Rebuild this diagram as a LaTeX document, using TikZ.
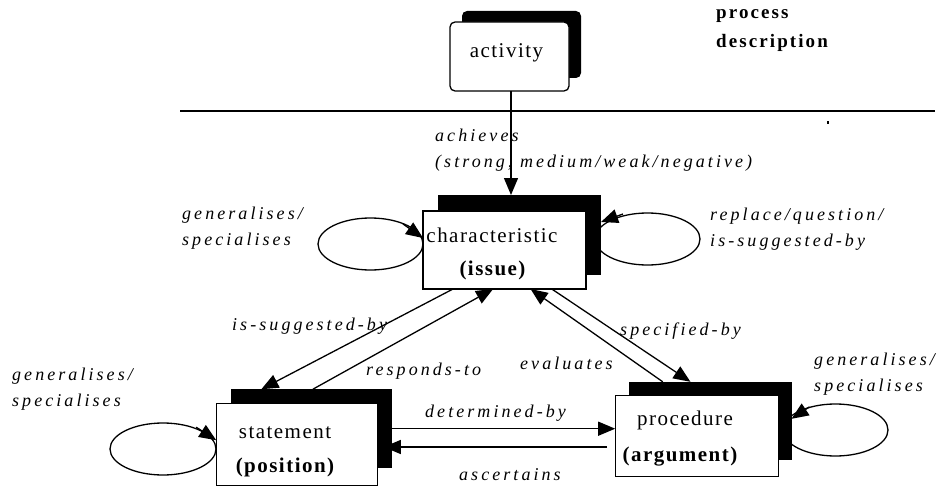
\documentclass[tikz,border=0pt]{standalone}
\usepackage{fontspec}
\setmainfont{Liberation Serif}
\newfontfamily\boxfont[LetterSpace=7]{Liberation Serif}
\newfontfamily\lblfont[LetterSpace=17]{Liberation Serif}
\newfontfamily\hdfont[LetterSpace=11]{Liberation Serif}
\usetikzlibrary{arrows.meta,calc}
\tikzset{
  front/.style={draw=black,fill=white,line width=1.3pt,inner sep=0pt,outer sep=0pt},
  shadow/.style={fill=black,inner sep=0pt,outer sep=0pt},
  boxtext/.style={font=\boxfont\fontsize{21}{25}\selectfont,anchor=base,inner sep=0pt},
  boxbold/.style={font=\boxfont\bfseries\fontsize{21}{25}\selectfont,anchor=base,inner sep=0pt},
  lbl/.style={font=\lblfont\fontsize{18}{26}\selectfont\itshape,anchor=base west,inner sep=0pt,align=left},
  hd/.style={font=\hdfont\bfseries\fontsize{19}{29}\selectfont,anchor=base west,inner sep=0pt,align=left},
  arr/.style={line width=1.3pt,-{Triangle[length=17pt,width=14pt]}},
  ln/.style={line width=1.3pt},
  loopell/.style={line width=1.3pt}
}
\begin{document}
\begin{tikzpicture}[x=1pt,y=-1pt]
\useasboundingbox (0,0) rectangle (937,487);
% separator line
\coordinate (hlA) at (180,111);
\coordinate (hlB) at (935,111);
\draw[ln] (hlA) -- (hlB);
\fill (827,121) rectangle (829,124);
% heading (anchor at baseline of last line)
\node[hd] (head) at (716,48) {process\\description};

% loops (ellipses) drawn first
\coordinate (cLc) at (370.5,244);
\coordinate (cRc) at (647.5,239);
\coordinate (sLc) at (163,449);
\coordinate (pRc) at (835.5,430);
\draw[loopell] (cLc) ellipse [x radius=52.5pt,y radius=26pt];
\draw[loopell] (cRc) ellipse [x radius=52.5pt,y radius=26pt];
\draw[loopell] (sLc) ellipse [x radius=53pt,y radius=26pt];
\draw[loopell] (pRc) ellipse [x radius=52.5pt,y radius=26pt];

% boxes
\node[shadow,rounded corners=5pt,minimum width=119pt,minimum height=67pt] (actS) at (521.5,44.5) {};
\node[front,rounded corners=5pt,minimum width=119pt,minimum height=69pt] (actF) at (509.5,56.5) {};
\node[shadow,minimum width=163pt,minimum height=80pt] (charS) at (519.5,235) {};
\node[front,minimum width=163pt,minimum height=78pt] (charF) at (504.5,250) {};
\node[shadow,minimum width=161pt,minimum height=79pt] (statS) at (311.3,428.7) {};
\node[front,minimum width=161pt,minimum height=82pt] (statF) at (296.7,444.2) {};
\node[shadow,minimum width=163pt,minimum height=78pt] (procS) at (710,420.8) {};
\node[front,minimum width=163pt,minimum height=81pt] (procF) at (696.7,436.3) {};

% box texts
\node[boxtext] (actT) at (506.5,57.3) {activity};
\node[boxtext] (charT) at (492,242.7) {characteristic};
\node[boxbold] (charB) at (492.5,275) {(issue)};
\node[boxtext] (statT) at (285,438) {statement};
\node[boxbold] (statB) at (285,472) {(position)};
\node[boxtext] (procT) at (685,425) {procedure};
\node[boxbold] (procB) at (680,461) {(argument)};

% activity -> characteristic
\draw[arr] ([xshift=1.5pt]actF.south) -- ([xshift=1.5pt]actF.south |- charS.north);
\node[lbl] (achL) at (435,167) {achieves\\(strong, medium/weak/negative)};

% loop arrowheads
\draw[arr] ($(charF.west)+(-20,-26)$) -- ($(charF.west)+(0,-12)$);
\draw[arr] ($(charS.east)+(22,-21)$) -- ($(charS.east)+(0,-13)$);
\draw[arr] ($(statF.west)+(-20,-17)$) -- ($(statF.west)+(0,-4)$);
\draw[arr] ($(procS.east)+(18,-14)$) -- ($(procS.east)+(0,-2)$);
\node[lbl] (cLl) at (182,245) {generalises/\\specialises};
\node[lbl] (cRl) at (710,246.7) {replace/question/\\is-suggested-by};
\node[lbl] (sLl) at (12,406.7) {generalises/\\specialises};
\node[lbl] (pRl) at (814,391.7) {generalises/\\specialises};

% diagonals
\draw[arr] ($(charF.south west)!0.184!(charF.south east)$) -- ($(statS.north west)!0.19!(statS.north east)$);
\draw[arr] ($(statS.north west)!0.51!(statS.north east)$) -- ($(charF.south west)!0.43!(charF.south east)$);
\draw[arr] ($(procS.north west)!0.21!(procS.north east)$) -- ($(charF.south west)!0.66!(charF.south east)$);
\draw[arr] ($(charF.south west)!0.79!(charF.south east)$) -- ($(procS.north west)!0.38!(procS.north east)$);
\node[lbl] (isL) at (232,330) {is-suggested-by};
\node[lbl] (rsL) at (366,375) {responds-to};
\node[lbl] (spL) at (620,335) {specified-by};
\node[lbl] (evL) at (520,369) {evaluates};

% horizontals
\draw[arr] (statS.east) -- (statS.east -| procF.west);
\draw[arr] ([xshift=-8pt,yshift=-10.7pt]procF.west) -- ([xshift=-8pt,yshift=-10.7pt]procF.west -| statS.east);
\node[lbl] (dtL) at (425,417) {determined-by};
\node[lbl] (asL) at (459,480) {ascertains};
\end{tikzpicture}
\end{document}
